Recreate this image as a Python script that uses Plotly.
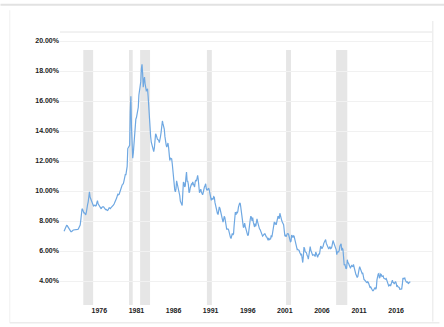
import pandas as pd
import plotly.graph_objects as go

# 30-year fixed mortgage rate, monthly averages (%), starting April 1971
rates_1970s = [7.31, 7.43, 7.53, 7.60, 7.70, 7.69, 7.63, 7.55, 7.48,
               7.44, 7.32, 7.29, 7.29, 7.37, 7.37, 7.40, 7.40, 7.42, 7.43, 7.44, 7.44,
               7.44, 7.44, 7.46, 7.54, 7.65, 7.73, 8.05, 8.50, 8.82, 8.77, 8.58, 8.54,
               8.54, 8.46, 8.41, 8.58, 8.97, 9.09, 9.28, 9.59, 9.95, 9.60, 9.44, 9.29,
               9.26, 9.16, 9.06, 9.00, 9.05, 9.06, 9.00, 9.03, 9.22, 9.36, 9.15, 9.08,
               9.06, 8.94, 8.83, 8.81, 8.90, 8.95, 8.96, 8.94, 8.87, 8.81, 8.76, 8.77,
               8.73, 8.70, 8.73, 8.82, 8.88, 8.87, 8.83, 8.90, 8.94, 8.97, 9.00, 9.07,
               9.15, 9.23, 9.31, 9.39, 9.53, 9.67, 9.78, 9.75, 9.78, 9.93, 10.09, 10.26,
               10.38, 10.41, 10.44, 10.51, 10.69, 11.04, 11.09, 11.09, 11.30, 11.64, 12.83, 12.90]
rates_1980s = [12.88, 13.04, 15.28, 16.32, 14.26, 12.71, 12.19, 12.56, 13.20, 13.79, 14.21, 14.79,
               14.90, 15.13, 15.40, 15.58, 16.40, 16.70, 16.83, 17.29, 18.16, 18.45, 17.83, 16.92,
               17.40, 17.60, 17.16, 16.89, 16.68, 16.70, 16.82, 16.27, 15.43, 14.61, 13.83, 13.62,
               13.25, 13.04, 12.80, 12.78, 12.63, 12.87, 13.42, 13.81, 13.73, 13.54, 13.44, 13.42,
               13.37, 13.23, 13.39, 13.65, 13.94, 14.42, 14.67, 14.47, 14.35, 14.13, 13.64, 13.18,
               13.08, 12.92, 13.17, 13.20, 12.91, 12.22, 12.03, 12.19, 12.19, 12.14, 11.78, 11.26,
               10.88, 10.71, 10.08, 9.94, 10.14, 10.68, 10.51, 10.20, 10.01, 9.98, 9.70, 9.32,
               9.20, 9.08, 9.04, 9.83, 10.60, 10.54, 10.28, 10.33, 10.89, 11.26, 10.65, 10.65,
               10.43, 9.89, 9.93, 10.20, 10.46, 10.46, 10.43, 10.60, 10.48, 10.30, 10.27, 10.61,
               10.73, 10.65, 11.03, 11.05, 10.77, 10.20, 9.88, 9.99, 10.13, 9.95, 9.77, 9.74]
rates_1990s = [9.90, 10.20, 10.27, 10.37, 10.48, 10.16, 10.04, 10.10, 10.18, 10.18, 10.01, 9.67,
               9.64, 9.37, 9.50, 9.49, 9.47, 9.62, 9.58, 9.24, 9.01, 8.86, 8.71, 8.50,
               8.43, 8.76, 8.94, 8.85, 8.67, 8.51, 8.13, 7.98, 7.92, 8.09, 8.31, 8.22,
               7.92, 7.71, 7.46, 7.46, 7.47, 7.42, 7.21, 7.11, 6.91, 6.83, 7.16, 7.17,
               7.06, 7.15, 7.68, 8.32, 8.60, 8.40, 8.61, 8.51, 8.64, 8.93, 9.17, 9.20,
               9.15, 8.83, 8.46, 8.32, 7.96, 7.57, 7.61, 7.86, 7.64, 7.48, 7.38, 7.20,
               7.03, 7.08, 7.62, 7.93, 8.07, 8.32, 8.25, 8.00, 8.23, 7.92, 7.62, 7.60,
               7.82, 7.65, 7.90, 8.14, 7.94, 7.69, 7.50, 7.48, 7.43, 7.29, 7.21, 7.10,
               6.99, 7.04, 7.13, 7.14, 7.14, 7.00, 6.95, 6.92, 6.72, 6.71, 6.87, 6.74,
               6.79, 6.81, 7.04, 6.92, 7.15, 7.55, 7.63, 7.94, 7.82, 7.85, 7.74, 7.91]
rates_2000s = [8.21, 8.33, 8.24, 8.15, 8.52, 8.29, 8.15, 8.03, 7.91, 7.80, 7.75, 7.38,
               7.03, 7.05, 6.95, 7.08, 7.15, 7.16, 7.13, 6.95, 6.82, 6.62, 6.66, 7.07,
               7.00, 6.89, 7.01, 6.99, 6.81, 6.65, 6.49, 6.29, 6.09, 6.11, 6.07, 6.05,
               5.92, 5.84, 5.75, 5.81, 5.48, 5.23, 5.63, 6.26, 6.15, 5.95, 5.93, 5.88,
               5.71, 5.64, 5.45, 5.83, 6.27, 6.29, 6.06, 5.87, 5.75, 5.72, 5.73, 5.75,
               5.71, 5.63, 5.93, 5.86, 5.72, 5.58, 5.70, 5.82, 5.77, 6.07, 6.33, 6.27,
               6.15, 6.25, 6.32, 6.51, 6.60, 6.68, 6.76, 6.52, 6.40, 6.36, 6.24, 6.14,
               6.22, 6.29, 6.16, 6.18, 6.26, 6.66, 6.70, 6.57, 6.38, 6.38, 6.21, 6.10,
               5.76, 5.92, 5.97, 5.92, 6.04, 6.32, 6.43, 6.48, 6.04, 6.20, 6.09, 5.33,
               5.06, 5.13, 5.00, 4.81, 4.86, 5.42, 5.22, 5.19, 5.06, 4.95, 4.88, 4.93]
rates_2010s = [5.03, 4.99, 4.97, 5.10, 4.89, 4.74, 4.56, 4.43, 4.35, 4.23, 4.30, 4.71,
               4.76, 4.95, 4.84, 4.84, 4.64, 4.51, 4.55, 4.27, 4.11, 4.07, 3.99, 3.96,
               3.92, 3.89, 3.95, 3.91, 3.80, 3.68, 3.55, 3.60, 3.50, 3.38, 3.35, 3.35,
               3.41, 3.53, 3.57, 3.45, 3.54, 4.07, 4.37, 4.46, 4.49, 4.19, 4.26, 4.46,
               4.43, 4.30, 4.34, 4.34, 4.19, 4.16, 4.13, 4.12, 4.16, 4.04, 4.00, 3.86,
               3.67, 3.71, 3.77, 3.67, 3.84, 3.98, 4.05, 3.91, 3.89, 3.80, 3.94, 3.96,
               3.87, 3.66, 3.69, 3.61, 3.60, 3.57, 3.44, 3.44, 3.46, 3.47, 3.77, 4.20,
               4.15, 4.17, 4.20, 4.05, 4.01, 3.90, 3.97, 3.88, 3.81, 3.90, 3.92, 3.95]

recession_starts = ["1973-11-01", "1980-01-01", "1981-07-01", "1990-07-01", "2001-03-01", "2007-12-01"]
recession_ends = ["1975-03-01", "1980-07-01", "1982-11-01", "1991-03-01", "2001-11-01", "2009-06-01"]

x_tick_years = ["1976", "1981", "1986", "1991", "1996", "2001", "2006", "2011", "2016"]
y_tick_values = [4, 6, 8, 10, 12, 14, 16, 18, 20]

rates = rates_1970s + rates_1980s + rates_1990s + rates_2000s + rates_2010s
dates = pd.date_range("1971-04-01", periods=len(rates), freq="MS")

fig = go.Figure()
fig.add_trace(go.Scatter(x=dates, y=rates, mode="lines",
                         line=dict(color="#6fa8e2", width=1.2), hoverinfo="skip",
                         showlegend=False))

for s, e in zip(recession_starts, recession_ends):
    fig.add_shape(type="rect", xref="x", yref="y", x0=s, x1=e, y0=2.4, y1=19.4,
                  fillcolor="#e6e6e6", line=dict(width=0), layer="below")

# card / frame decorations
fig.add_shape(type="line", xref="paper", yref="paper", x0=-0.16, x1=1.04, y0=1.10, y1=1.10,
              line=dict(color="#e2e2e2", width=2))
fig.add_shape(type="line", xref="paper", yref="paper", x0=-0.135, x1=-0.135, y0=-0.065, y1=1.08,
              line=dict(color="#f0f0f0", width=1))
fig.add_shape(type="line", xref="paper", yref="paper", x0=-0.135, x1=1.02, y0=-0.065, y1=-0.065,
              line=dict(color="#ececec", width=1.5))
fig.add_shape(type="line", xref="paper", yref="paper", x0=0, x1=1, y0=1, y1=1,
              line=dict(color="#e4e4e4", width=1))
fig.add_shape(type="line", xref="paper", yref="paper", x0=1.002, x1=1.002, y0=-0.06, y1=1.04,
              line=dict(color="#eeeeee", width=1.5))

tick_font = dict(family="Liberation Sans, Arial, sans-serif", size=7, color="#222222")

fig.update_layout(
    width=444, height=327,
    margin=dict(l=60, r=12, t=32, b=22),
    paper_bgcolor="white", plot_bgcolor="white",
    font=dict(family="Liberation Sans, Arial, sans-serif", size=7, color="#222222"),
    xaxis=dict(type="date", range=["1970-09-12", "2020-11-01"],
               tickvals=[y + "-01-01" for y in x_tick_years],
               ticktext=["<b>%s</b>" % y for y in x_tick_years],
               showgrid=False, zeroline=False, showline=False, ticks="",
               tickfont=tick_font),
    yaxis=dict(range=[2.4, 20.6], tickvals=y_tick_values,
               ticktext=["<b>%.2f%%</b>" % v for v in y_tick_values],
               showgrid=True, gridcolor="#f1f1f1", gridwidth=1, zeroline=False,
               showline=False, ticks="", tickfont=tick_font),
)

fig.write_html("out.html")
